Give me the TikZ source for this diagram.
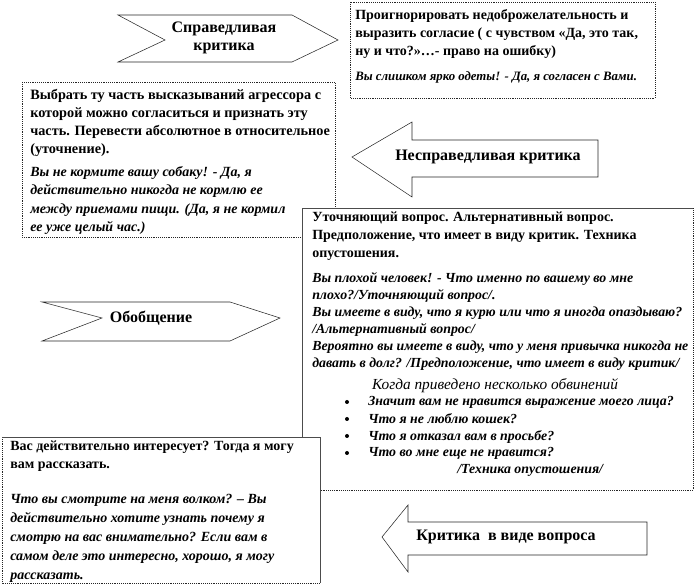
\documentclass[tikz,border=0pt]{standalone}
\usepackage{fontspec}
\setmainfont{Liberation Serif}
\usetikzlibrary{positioning}
\tikzset{
  card/.style={draw=black!85,densely dotted,fill=white},
  rim/.style={draw=black!70},
  sign/.style={draw=black!85,fill=white},
  lead/.style={anchor=north west,align=left,inner sep=0pt,font=\bfseries\fontsize{10.5}{13.5}\selectfont},
  quote/.style={anchor=north west,align=left,inner sep=0pt,font=\bfseries\itshape\fontsize{10.4}{12.75}\selectfont},
  title/.style={align=center,inner sep=0pt,font=\bfseries\fontsize{12}{14}\selectfont}
}
\begin{document}
\begin{tikzpicture}[x=.75pt,y=-.75pt]
\useasboundingbox (0,0) rectangle (697,584);
% top right
\draw[card] (350,2) rectangle (655,98);
\node[lead] (ignore) at (355,9) {Проигнорировать  недоброжелательность и\\выразить согласие ( с чувством «Да, это так,\\ну и что?»…- право на ошибку)};
\node[quote,font=\bfseries\itshape\fontsize{9.6}{11}\selectfont] (ignoreq) at (355,71) {Вы слишком ярко одеты!  - Да, я согласен с Вами.};
\draw[sign] (118,15)--(292,15)--(338,40)--(292,62)--(118,62)--(165,40)--cycle;
\node[title] (fair) at (224,38) {Справедливая\\критика};
% left
\draw[card] (22,82) rectangle (335,237);
\node[lead,font=\bfseries\fontsize{10.7}{13.6}\selectfont] (agree) at (30,89) {Выбрать ту часть высказываний агрессора с\\которой можно  согласиться и признать  эту\\часть. Перевести абсолютное в относительное\\(уточнение).};
\node[quote,font=\bfseries\itshape\fontsize{10.5}{13.9}\selectfont] (agreeq) at (30,166) {Вы не кормите вашу собаку!  - Да, я\\действительно никогда не кормлю ее\\между приемами пищи. (Да, я не кормил\\ее уже целый час.)};
\draw[sign] (352,157)--(412,122)--(412,140)--(598,140)--(598,177)--(412,177)--(412,197)--cycle;
\node[title] (unfair) at (488,157) {Несправедливая критика};
% big box
\fill[white] (302,208) rectangle (693,490);
\draw[card] (302,490)--(693,490)--(693,208);
\draw[rim] (302,490)--(302,208)--(693,208);
\node[lead] (ask) at (312,212) {Уточняющий вопрос.  Альтернативный вопрос.\\Предположение,  что имеет в виду критик.  Техника\\опустошения.};
\node[quote] (askq) at (312,272) {Вы плохой человек!  - Что именно по вашему во мне\\плохо?/Уточняющий вопрос/.\\Вы имеете в виду, что я курю или что я иногда опаздываю?\\/Альтернативный вопрос/\\Вероятно вы имеете в виду, что у меня привычка никогда не\\давать в долг? /Предположение, что имеет в виду критик/};
\node[font=\itshape\fontsize{11.5}{13}\selectfont,inner sep=0pt] (many) at (495,386) {Когда приведено несколько обвинений};
\foreach \t [count=\i] in {Значит вам не нравится выражение моего лица?,Что я не люблю кошек?,Что я отказал вам в просьбе?,Что во мне еще не нравится?}{
  \node[quote] (b\i) at (368,396+17*\i-17) {\t};
  \fill (347,402+17*\i-17) circle (2);
}
\node[quote] (empty) at (457,464) {/Техника опустошения/};
\draw[sign] (42,302)--(230,302)--(280,318)--(230,341)--(42,341)--(102,318)--cycle;
\node[title] (general) at (151,318) {Обобщение};
% bottom left
\fill[white] (2,437) rectangle (320,583);
\draw[card] (2,437)--(2,583)--(320,583);
\draw[rim] (2,437)--(320,437)--(320,583);
\node[lead] (tell) at (10,441) {Вас действительно интересует? Тогда я могу\\вам рассказать.};
\node[quote,font=\bfseries\itshape\fontsize{10.5}{14.25}\selectfont] (tellq) at (10,494) {Что вы смотрите на меня волком? – Вы\\действительно хотите узнать почему я\\смотрю на вас внимательно? Если вам в\\самом деле это интересно, хорошо, я могу\\рассказать.};
\draw[sign] (382,537)--(408,505)--(408,522)--(647,522)--(647,555)--(408,555)--(408,572)--cycle;
\node[title] (question) at (506,537) {Критика\ \ в виде вопроса};
\end{tikzpicture}
\end{document}
